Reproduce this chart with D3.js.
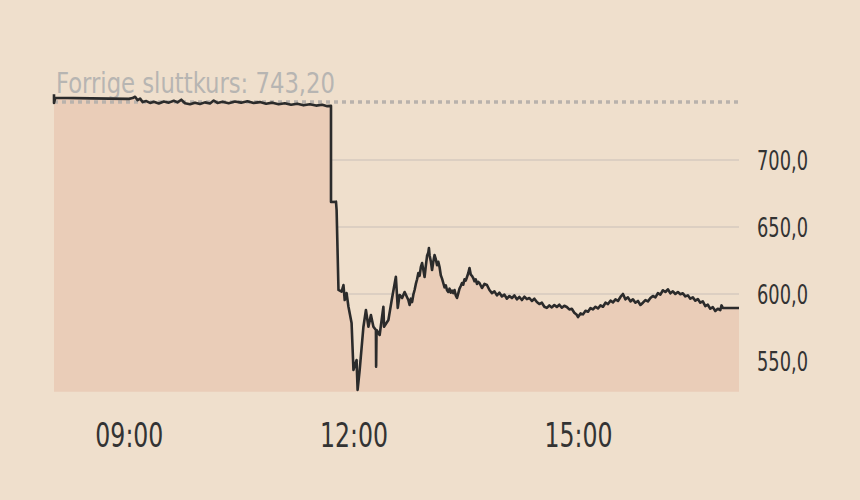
<!DOCTYPE html>
<html>
<head>
<meta charset="utf-8">
<script src="https://cdn.jsdelivr.net/npm/d3@7"></script>
<style>
  html, body { margin: 0; padding: 0; background: #efdfcc; }
  svg { display: block; }
  text { font-family: "DejaVu Sans Condensed", "Liberation Sans Narrow", "DejaVu Sans", sans-serif; }
</style>
</head>
<body>
<svg id="chart" width="860" height="500"></svg>
<script>
// ---------- DATA (time, price) ----------
const morningSeries = [
  ["08:00",749.0],["08:00",742.6],["08:01",746.4],["08:30",746.0],["09:00",745.6],
  ["09:03",746.2],["09:05",747.2],["09:07",744.6],["09:09",745.8],["09:11",743.2],
  ["09:14",744.0],["09:17",742.6],["09:20",743.4],["09:24",742.2],["09:28",743.6],
  ["09:32",742.8],["09:36",744.2],["09:39",743.0],["09:42",745.0],["09:45",742.4],
  ["09:49",741.6],["09:53",742.8],["09:57",741.8],["10:01",743.0],["10:05",742.2],
  ["10:08",744.4],["10:11",742.6],["10:15",743.4],["10:20",742.4],["10:25",743.6],
  ["10:30",742.8],["10:35",743.8],["10:40",742.6],["10:45",743.2],["10:50",742.0],
  ["10:55",742.8],["11:00",741.6],["11:05",742.4],["11:10",741.2],["11:15",742.0],
  ["11:20",740.8],["11:25",741.6],["11:30",740.6],["11:35",741.2],["11:39",740.2],
  ["11:42",740.4]
];
const crashSeries = [
  ["11:42",668.7],["11:46",668.9],["11:46:30",662.7],["11:48",603.0],["11:50:30",601.7],
  ["11:52",606.7],["11:53",595.5],["11:54:30",600.7],["11:56",590.5],["11:58:30",578.4],
  ["12:00",543.3],["12:02:30",550.7],["12:03:20",528.4],["12:05",543.3],["12:08",575.6],
  ["12:10",588.1],["12:12",575.6],["12:14",584.3],["12:16",575.6],["12:18",573.1],
  ["12:18:10",545.8],["12:18:30",573.1],["12:21",569.4],["12:24",590.5],["12:24:30",575.6],
  ["12:28",580.6],["12:30:40",595.5],["12:34",612.9],["12:35:30",589.6],["12:37",599.3],
  ["12:39",597.0],["12:41",601.5],["12:44",595.5]
];
const afternoonSeries = [
  ["12:45",591.8],["12:46",596.5],["12:47",594.0],["12:48",599.5],["12:49",603.0],
  ["12:50",607.5],["12:51",611.0],["12:52",615.7],["12:53",613.5],["12:54",620.0],
  ["12:55",623.1],["12:56",618.0],["12:57",612.7],["12:58",621.0],["12:59",628.5],
  ["13:00",631.0],["13:00:30",634.3],["13:01",629.0],["13:02",624.5],["13:03",617.9],
  ["13:04",624.0],["13:05",629.1],["13:06",626.0],["13:07",621.5],["13:08",624.0],
  ["13:09",620.1],["13:10",614.0],["13:11",611.5],["13:12",608.2],["13:13",605.0],
  ["13:14",606.5],["13:15",602.8],["13:16",601.5],["13:17",604.0],["13:18",601.0],
  ["13:19",602.5],["13:20",600.7],["13:21",603.0],["13:22",599.0],["13:23",597.0],
  ["13:24",600.5],["13:25",604.0],["13:26",606.0],["13:27",608.2],["13:28",607.0],
  ["13:29",611.0],["13:30",610.0],["13:31",612.7],["13:32",615.5],["13:33",619.4],
  ["13:34",614.5],["13:35",613.5],["13:36",611.9],["13:37",609.5],["13:38",611.0],
  ["13:39",607.5],["13:40",609.0],["13:41",608.2],["13:43",604.5],["13:45",607.5],
  ["13:47",606.7],["13:49",603.0],["13:51",600.7],["13:53",602.0],["13:55",599.0],
  ["13:57",601.0],["13:59",598.2],["14:01",599.5],["14:03",596.5],["14:05",598.5],
  ["14:07",597.0],["14:09",599.0],["14:11",596.0],["14:13",597.8],["14:15",595.5],
  ["14:17",598.0],["14:19",596.2],["14:21",597.0],["14:23",594.8],["14:25",596.5],
  ["14:27",594.0],["14:29",592.5],["14:31",593.5],["14:33",590.5],["14:35",589.6],
  ["14:37",591.5],["14:39",590.0],["14:41",591.8],["14:43",590.3],["14:45",592.0],
  ["14:47",589.8],["14:49",591.2],["14:51",590.3],["14:53",588.5],["14:55",589.0],
  ["14:57",586.0],["14:59",584.5],["15:00",582.8],["15:02",585.5],["15:04",584.8],
  ["15:06",587.5],["15:08",586.8],["15:10",589.5],["15:12",588.5],["15:14",590.5],
  ["15:16",589.2],["15:18",591.5],["15:20",590.5],["15:22",593.5],["15:24",592.5],
  ["15:26",595.0],["15:28",593.8],["15:30",596.0],["15:32",594.8],["15:34",597.8],
  ["15:36",600.0],["15:38",596.0],["15:40",597.5],["15:42",594.5],["15:44",596.0],
  ["15:46",593.5],["15:48",594.8],["15:50",591.8],["15:52",593.5],["15:54",595.5],
  ["15:56",594.5],["15:58",597.0],["16:00",598.5],["16:02",597.5],["16:04",600.7],
  ["16:06",599.5],["16:08",602.8],["16:10",601.5],["16:12",603.5],["16:14",600.5],
  ["16:16",602.0],["16:18",600.0],["16:20",601.5],["16:22",599.8],["16:24",600.5],
  ["16:26",598.2],["16:28",599.0],["16:30",596.5],["16:32",597.5],["16:34",595.0],
  ["16:36",596.2],["16:38",593.5],["16:40",594.5],["16:42",591.0],["16:44",592.0],
  ["16:46",589.0],["16:48",590.2],["16:50",587.3],["16:52",589.0],["16:54",588.0],
  ["16:55",591.5],["16:56",589.6],["16:59",589.6],["17:09",589.6]
];
const yTicks = [550, 600, 650, 700];
const xTicks = ["09:00", "12:00", "15:00"];
const prevClose = 743.20;
const prevCloseLabel = "Forrige sluttkurs: 743,20";
const xStart = "08:00", xEnd = "17:09";
const yBase = 527;

// ---------- CHART ----------
const parse = s => {
  const p = s.split(":").map(Number);
  return new Date(2020, 0, 1, p[0], p[1], p[2] || 0);
};
const data = [...morningSeries, ...crashSeries, ...afternoonSeries]
  .map(([t, v]) => ({ t: parse(t), v }));

const svg = d3.select("#chart");
const left = 54, right = 739;

const x = d3.scaleTime().domain([parse(xStart), parse(xEnd)]).range([left, right]);
const y = d3.scaleLinear().domain([550, 700]).range([361, 160]);

// gridlines
svg.append("g").selectAll("line").data(yTicks).join("line")
  .attr("x1", left).attr("x2", right)
  .attr("y1", d => y(d)).attr("y2", d => y(d))
  .attr("stroke", "#dccfc2").attr("stroke-width", 2);

// area
const area = d3.area().x(d => x(d.t)).y0(y(yBase)).y1(d => y(d.v));
svg.append("path").datum(data).attr("d", area).attr("fill", "#eacdb8");

// previous close dotted line
svg.append("line")
  .attr("x1", left).attr("x2", right)
  .attr("y1", y(prevClose)).attr("y2", y(prevClose))
  .attr("stroke", "#b9b2ac").attr("stroke-width", 3.5)
  .attr("stroke-dasharray", "4,4");

// label
svg.append("text")
  .attr("x", 56).attr("y", 93)
  .attr("font-size", 28).attr("fill", "#b7b5b2")
  .attr("textLength", 279).attr("lengthAdjust", "spacingAndGlyphs")
  .text(prevCloseLabel);

// price line
const line = d3.line().x(d => x(d.t)).y(d => y(d.v));
svg.append("path").datum(data).attr("d", line)
  .attr("fill", "none").attr("stroke", "#2b2b2b").attr("stroke-width", 2.6)
  .attr("stroke-linejoin", "round");

// y axis
const fmt = v => d3.format(".1f")(v).replace(".", ",");
const yAxis = d3.axisRight(y).tickValues(yTicks).tickSize(0).tickPadding(0).tickFormat(fmt);
const gy = svg.append("g").attr("transform", "translate(757,0)").call(yAxis);
gy.select(".domain").remove();
gy.selectAll("text").attr("font-size", 26).attr("fill", "#333").attr("dy", "0.36em")
  .attr("textLength", 51).attr("lengthAdjust", "spacingAndGlyphs")
  .style("font-family", '"DejaVu Sans Condensed", "DejaVu Sans", sans-serif');

// x axis
const xAxis = d3.axisBottom(x).tickValues(xTicks.map(parse)).tickSize(0).tickPadding(0)
  .tickFormat(d3.timeFormat("%H:%M"));
const gx = svg.append("g").attr("transform", "translate(0,422)").call(xAxis);
gx.select(".domain").remove();
gx.selectAll("text").attr("font-size", 34).attr("fill", "#333").attr("dy", "0.74em")
  .attr("textLength", 68).attr("lengthAdjust", "spacingAndGlyphs")
  .style("font-family", '"DejaVu Sans Condensed", "DejaVu Sans", sans-serif');
</script>
</body>
</html>
